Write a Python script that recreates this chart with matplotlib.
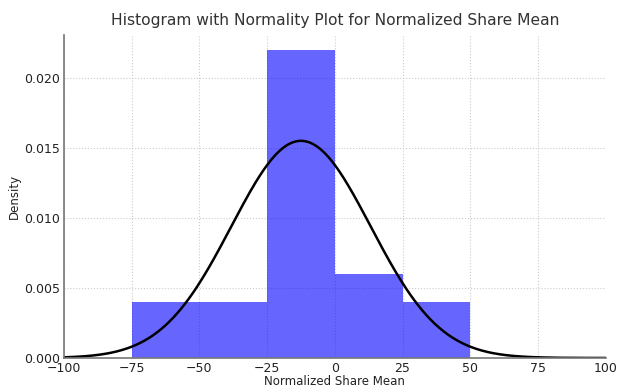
import numpy as np
import matplotlib
matplotlib.use('Agg')
import matplotlib.pyplot as plt

# histogram bins (density scale)
bin_edges = [-75, -50, -25, 0, 25, 50]
densities = [0.004, 0.004, 0.022, 0.006, 0.004]

# fitted normal curve parameters
mu = -12.5
sigma = 25.7

fig = plt.figure(figsize=(6.17, 3.87), dpi=100)
ax = fig.add_axes([0.1037, 0.075, 0.878, 0.835])

centers = [(a + b) / 2 for a, b in zip(bin_edges[:-1], bin_edges[1:])]
ax.hist(centers, bins=bin_edges, weights=densities, color='blue', alpha=0.6)

x = np.linspace(-100, 100, 400)
pdf = np.exp(-0.5 * ((x - mu) / sigma) ** 2) / (sigma * np.sqrt(2 * np.pi))
ax.plot(x, pdf, color='black', lw=1.8)

ax.set_xlim(-100, 100)
ax.set_ylim(0, 0.0231)
ax.set_xticks([-100, -75, -50, -25, 0, 25, 50, 75, 100])
ax.set_yticks([0.0, 0.005, 0.010, 0.015, 0.020])
ax.yaxis.set_major_formatter(matplotlib.ticker.FormatStrFormatter('%.3f'))

ax.grid(True, linestyle=':', color='#cccccc', lw=0.8)
ax.set_axisbelow(True)
for s in ['top', 'right']:
    ax.spines[s].set_visible(False)
for s in ['left', 'bottom']:
    ax.spines[s].set_color('#777777')
    ax.spines[s].set_linewidth(1.2)
ax.tick_params(length=0, pad=3, labelsize=9, labelcolor='#222222')

ax.set_title('Histogram with Normality Plot for Normalized Share Mean', fontsize=11.2, color='#333333', pad=7)
ax.set_xlabel('Normalized Share Mean', fontsize=8.5, color='#222222', labelpad=0)
ax.set_ylabel('Density', fontsize=8.5, color='#222222', labelpad=2)

fig.savefig('out.png', dpi=100)
